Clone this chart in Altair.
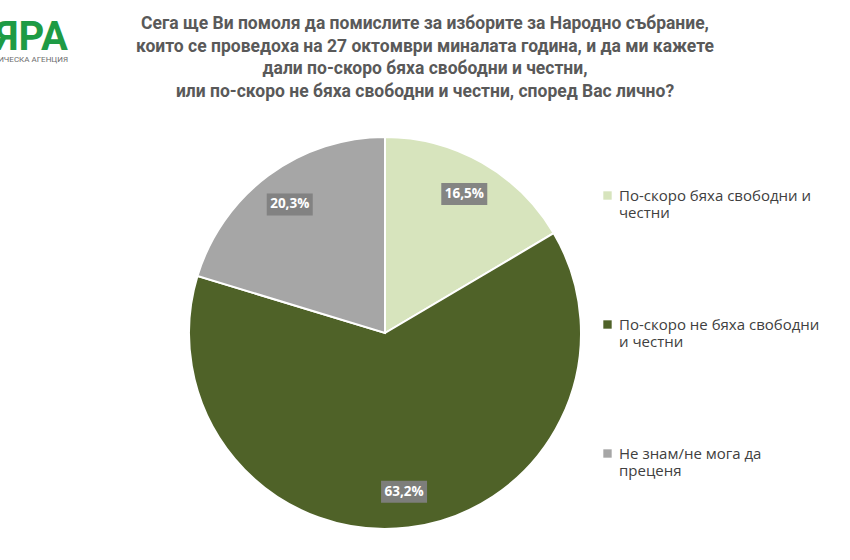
import altair as alt
import pandas as pd

categories = ["По-скоро бяха свободни и честни",
              "По-скоро не бяха свободни и честни",
              "Не знам/не мога да преценя"]
legend_lines = [["По-скоро бяха свободни и", "честни"],
                ["По-скоро не бяха свободни", "и честни"],
                ["Не знам/не мога да", "преценя"]]
values = [16.5, 63.2, 20.3]
labels = ["16,5%", "63,2%", "20,3%"]
colors = ["#d7e4bd", "#4f6228", "#a6a6a6"]
title_lines = ["Сега ще Ви помоля да помислите за изборите за Народно събрание,",
               "които се проведоха на 27 октомври миналата година, и да ми кажете",
               "дали по-скоро бяха свободни и честни,",
               "или по-скоро не бяха свободни и честни, според Вас лично?"]

df = pd.DataFrame({"cat": categories, "value": values, "label": labels,
                   "order": list(range(len(categories)))})

CX, CY, R, LR = 385, 333, 196, 160

label_expr = " : ".join(
    [f"datum.label == '{c}' ? {l!r}" for c, l in zip(categories, legend_lines)] + ["datum.label"]
)

base = alt.Chart(df)

pie = base.mark_arc(outerRadius=R, stroke="white", strokeWidth=2).encode(
    theta=alt.Theta("value:Q", stack=True),
    order=alt.Order("order:Q"),
    color=alt.Color("cat:N", scale=alt.Scale(domain=categories, range=colors),
                    legend=alt.Legend(title=None, orient="none", legendX=600, legendY=188,
                                      symbolType="square", symbolSize=70, symbolStrokeWidth=0,
                                      labelFont="Open Sans", labelFontSize=15, labelColor="#404040",
                                      rowPadding=96, labelLimit=300,
                                      labelExpr=label_expr)),
    x=alt.value(CX), y=alt.value(CY),
)

pos = base.transform_joinaggregate(total="sum(value)").transform_window(
    cum="sum(value)", sort=[alt.SortField("order")]
).transform_calculate(
    ang="(datum.cum - datum.value/2) / datum.total * 2 * PI"
).transform_calculate(
    px=f"{CX} + {LR} * sin(datum.ang)",
    py=f"{CY} - {LR} * cos(datum.ang)",
).transform_calculate(
    x1="datum.px - 23", x2="datum.px + 23", y1="datum.py - 11", y2="datum.py + 11"
)

boxes = pos.mark_rect(color="#7f7f7f", opacity=0.95).encode(
    x=alt.X("x1:Q", scale=None), x2="x2:Q",
    y=alt.Y("y1:Q", scale=None), y2="y2:Q",
)
texts = pos.mark_text(color="white", fontWeight="bold", font="Open Sans", fontSize=13.5,
                      baseline="middle").encode(
    x=alt.X("px:Q", scale=None), y=alt.Y("py:Q", scale=None), text="label:N"
)

logo_df = pd.DataFrame({"t": ["МЯРА"]})
logo = alt.Chart(logo_df).mark_text(color="#1e9b45", fontWeight="bold", font="Roboto",
                                    fontSize=40, align="right", baseline="alphabetic").encode(
    x=alt.value(68), y=alt.value(50), text="t:N")
sub_df = pd.DataFrame({"t": ["СОЦИОЛОГИЧЕСКА АГЕНЦИЯ"]})
sub = alt.Chart(sub_df).mark_text(color="#6d6d6d", font="Roboto", fontSize=8,
                                  align="right", baseline="alphabetic").encode(
    x=alt.value(68), y=alt.value(62), text="t:N")

chart = alt.layer(pie, boxes, texts, logo, sub).properties(
    width=850, height=560, padding=0, autosize=alt.AutoSizeParams(type="none"),
    title=alt.TitleParams(text=title_lines, anchor="middle", font="Roboto",
                          fontSize=17.5, fontWeight="bold", color="#595959",
                          lineHeight=22.5, offset=-100, frame="group"),
).configure_view(stroke=None)

chart.save("out.html", embed_options={"renderer": "svg", "actions": False})
